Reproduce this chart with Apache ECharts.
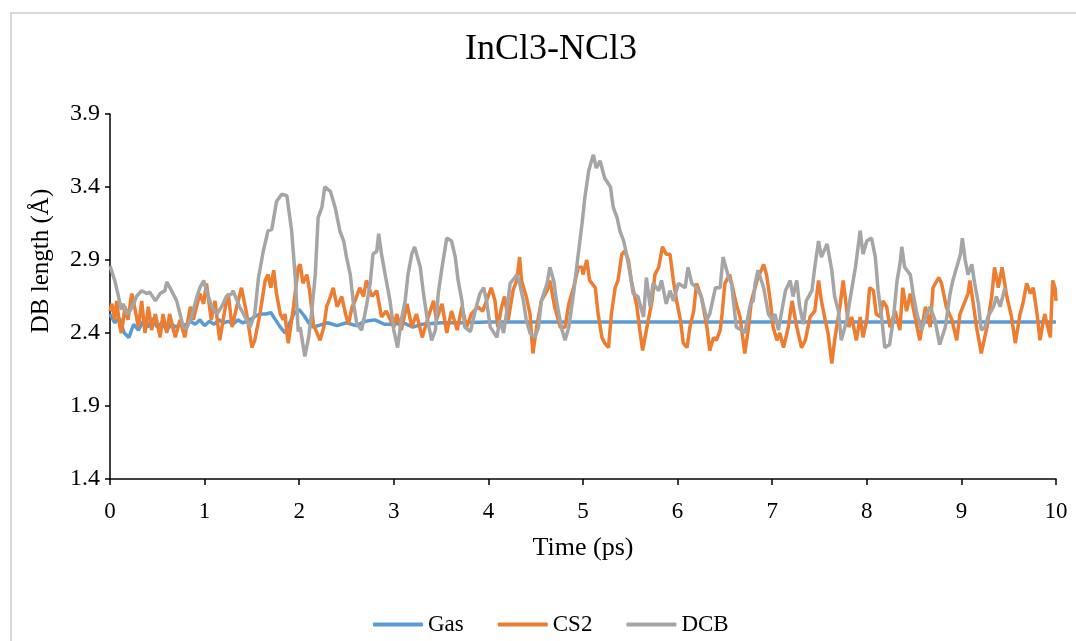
<!DOCTYPE html>
<html>
<head>
<meta charset="utf-8">
<script src="https://cdn.jsdelivr.net/npm/echarts@6/dist/echarts.min.js"></script>
<style>html,body{margin:0;padding:0;background:#fff;}#c{width:1076px;height:641px;}</style>
</head>
<body>
<div id="c"></div>
<script>
// ---- data ----
const yTicks = [1.4, 1.9, 2.4, 2.9, 3.4, 3.9];
const xTicks = [0,1,2,3,4,5,6,7,8,9,10];

const gasT = [0,0.05,0.1,0.15,0.2,0.25,0.3,0.35,0.4,0.45,0.5,0.55,0.6,0.65,0.7,0.75,0.8,0.85,0.9,0.95,1.0,1.05,1.1,1.15,1.2,1.25,1.3,1.35,1.4,1.45,1.5,1.55,1.6,1.65,1.7,1.75,1.8,1.85,1.9,1.95,2.0,2.05,2.1,2.15,2.2,2.3,2.4,2.5,2.6,2.7,2.8,2.9,3.0,3.1,3.2,3.3,3.5,3.7,4.0,5,6,7,8,9,10];
const gasV = [2.53,2.47,2.50,2.40,2.37,2.46,2.42,2.48,2.44,2.50,2.44,2.47,2.42,2.46,2.44,2.47,2.45,2.48,2.46,2.49,2.45,2.48,2.46,2.49,2.47,2.48,2.46,2.49,2.47,2.48,2.50,2.52,2.53,2.53,2.54,2.49,2.44,2.40,2.47,2.54,2.56,2.52,2.47,2.44,2.45,2.47,2.45,2.47,2.45,2.48,2.49,2.46,2.46,2.47,2.44,2.46,2.47,2.47,2.475,2.475,2.475,2.475,2.475,2.475,2.475];

const cs2T = [0.0,0.02,0.05,0.07,0.105,0.12,0.16,0.19,0.23,0.26,0.30,0.335,0.37,0.405,0.44,0.48,0.53,0.56,0.60,0.63,0.69,0.74,0.79,0.85,0.88,0.95,0.99,1.02,1.07,1.11,1.16,1.22,1.25,1.29,1.34,1.39,1.445,1.50,1.53,1.585,1.64,1.67,1.70,1.73,1.76,1.80,1.83,1.85,1.87,1.885,1.94,1.99,2.01,2.04,2.08,2.11,2.15,2.22,2.26,2.29,2.33,2.36,2.40,2.45,2.49,2.52,2.56,2.59,2.64,2.68,2.71,2.77,2.82,2.87,2.92,3.0,3.03,3.08,3.14,3.19,3.24,3.30,3.36,3.42,3.45,3.51,3.56,3.61,3.67,3.72,3.77,3.82,3.89,3.94,3.98,4.03,4.07,4.10,4.14,4.17,4.21,4.26,4.30,4.33,4.35,4.40,4.44,4.47,4.51,4.56,4.62,4.65,4.70,4.76,4.81,4.85,4.90,4.95,4.99,5.0,5.04,5.07,5.13,5.16,5.20,5.23,5.27,5.30,5.34,5.37,5.41,5.44,5.48,5.51,5.57,5.60,5.63,5.67,5.73,5.76,5.80,5.84,5.88,5.92,5.955,5.99,6.03,6.06,6.10,6.13,6.17,6.20,6.25,6.31,6.34,6.38,6.41,6.45,6.47,6.50,6.55,6.62,6.66,6.71,6.75,6.78,6.84,6.91,6.94,6.98,7.01,7.05,7.08,7.12,7.17,7.21,7.26,7.31,7.35,7.40,7.45,7.49,7.52,7.56,7.59,7.63,7.66,7.72,7.75,7.81,7.84,7.89,7.93,7.96,8.0,8.03,8.07,8.10,8.14,8.17,8.21,8.245,8.30,8.35,8.38,8.42,8.46,8.51,8.56,8.62,8.67,8.70,8.76,8.79,8.84,8.90,8.95,8.985,9.04,9.07,9.09,9.13,9.16,9.21,9.27,9.32,9.35,9.39,9.43,9.48,9.53,9.57,9.62,9.65,9.69,9.73,9.76,9.80,9.83,9.88,9.94,9.965,9.99,10.0];
const cs2V = [2.55,2.60,2.49,2.62,2.44,2.40,2.58,2.49,2.67,2.58,2.44,2.62,2.40,2.58,2.42,2.53,2.37,2.53,2.40,2.53,2.37,2.49,2.37,2.58,2.49,2.67,2.60,2.74,2.49,2.62,2.35,2.58,2.67,2.44,2.58,2.71,2.53,2.30,2.35,2.53,2.76,2.80,2.71,2.83,2.67,2.53,2.49,2.53,2.40,2.33,2.58,2.85,2.87,2.74,2.80,2.69,2.46,2.35,2.44,2.58,2.65,2.71,2.58,2.65,2.53,2.46,2.58,2.62,2.71,2.65,2.76,2.65,2.69,2.51,2.55,2.44,2.53,2.42,2.60,2.44,2.53,2.37,2.50,2.62,2.49,2.60,2.40,2.55,2.42,2.58,2.44,2.53,2.58,2.55,2.62,2.71,2.62,2.44,2.58,2.65,2.49,2.69,2.76,2.92,2.76,2.65,2.53,2.26,2.44,2.62,2.69,2.76,2.58,2.44,2.44,2.60,2.71,2.85,2.85,2.80,2.90,2.76,2.71,2.53,2.37,2.33,2.30,2.53,2.71,2.76,2.94,2.96,2.90,2.76,2.58,2.42,2.28,2.42,2.62,2.80,2.85,2.99,2.94,2.94,2.76,2.62,2.49,2.33,2.30,2.44,2.55,2.74,2.65,2.44,2.28,2.37,2.35,2.42,2.53,2.74,2.80,2.60,2.51,2.26,2.44,2.62,2.76,2.87,2.80,2.62,2.44,2.35,2.40,2.30,2.44,2.62,2.44,2.30,2.35,2.51,2.55,2.76,2.62,2.49,2.40,2.19,2.35,2.60,2.76,2.44,2.51,2.35,2.51,2.37,2.49,2.71,2.69,2.53,2.51,2.62,2.58,2.44,2.55,2.42,2.71,2.55,2.67,2.51,2.35,2.58,2.44,2.71,2.78,2.74,2.58,2.49,2.35,2.53,2.62,2.67,2.76,2.58,2.44,2.26,2.44,2.65,2.85,2.71,2.85,2.65,2.51,2.33,2.53,2.60,2.74,2.67,2.71,2.53,2.35,2.53,2.37,2.76,2.71,2.62];

const dcbT = [0.0,0.02,0.05,0.09,0.12,0.14,0.18,0.21,0.25,0.28,0.335,0.39,0.42,0.48,0.53,0.58,0.60,0.65,0.705,0.74,0.775,0.81,0.86,0.92,0.95,0.99,1.02,1.075,1.13,1.18,1.23,1.29,1.30,1.37,1.445,1.48,1.53,1.57,1.62,1.67,1.71,1.76,1.815,1.87,1.92,1.956,1.99,2.01,2.06,2.10,2.13,2.17,2.20,2.24,2.27,2.33,2.38,2.43,2.47,2.50,2.54,2.57,2.61,2.66,2.71,2.75,2.78,2.82,2.84,2.87,2.92,2.96,3.0,3.04,3.08,3.12,3.15,3.19,3.22,3.28,3.31,3.35,3.40,3.44,3.47,3.51,3.56,3.61,3.65,3.68,3.72,3.75,3.81,3.86,3.91,3.95,3.98,4.02,4.09,4.12,4.16,4.19,4.23,4.28,4.30,4.33,4.37,4.40,4.44,4.49,4.53,4.56,4.62,4.65,4.69,4.72,4.77,4.81,4.85,4.90,4.95,4.99,5.02,5.06,5.09,5.11,5.14,5.18,5.23,5.29,5.32,5.36,5.39,5.43,5.46,5.50,5.53,5.58,5.64,5.67,5.71,5.74,5.80,5.83,5.88,5.92,5.955,6.01,6.08,6.11,6.15,6.20,6.25,6.31,6.34,6.40,6.45,6.48,6.54,6.57,6.62,6.68,6.71,6.77,6.80,6.82,6.85,6.91,6.96,7.0,7.03,7.065,7.14,7.19,7.22,7.26,7.29,7.33,7.36,7.42,7.45,7.49,7.52,7.58,7.63,7.66,7.70,7.73,7.79,7.82,7.88,7.93,7.96,8.0,8.05,8.09,8.12,8.16,8.19,8.24,8.28,8.32,8.35,8.37,8.40,8.46,8.49,8.53,8.58,8.63,8.67,8.72,8.77,8.83,8.88,8.91,8.95,8.99,9.01,9.04,9.07,9.11,9.14,9.18,9.21,9.25,9.28,9.34,9.37,9.41,9.46];
const dcbV = [2.86,2.85,2.76,2.65,2.56,2.60,2.53,2.55,2.60,2.65,2.69,2.67,2.68,2.62,2.67,2.69,2.75,2.69,2.62,2.53,2.44,2.43,2.51,2.65,2.71,2.76,2.69,2.58,2.53,2.58,2.65,2.67,2.69,2.58,2.49,2.44,2.53,2.78,2.96,3.10,3.11,3.30,3.35,3.34,3.10,2.80,2.41,2.44,2.24,2.37,2.53,2.80,3.19,3.26,3.40,3.37,3.26,3.10,3.03,2.92,2.80,2.62,2.46,2.42,2.58,2.74,2.94,2.96,3.08,2.94,2.76,2.62,2.42,2.30,2.49,2.62,2.80,2.94,2.99,2.85,2.69,2.51,2.35,2.42,2.67,2.85,3.05,3.03,2.92,2.76,2.62,2.44,2.41,2.55,2.67,2.71,2.62,2.44,2.37,2.49,2.40,2.53,2.74,2.78,2.80,2.74,2.62,2.49,2.40,2.37,2.44,2.62,2.74,2.85,2.76,2.62,2.44,2.35,2.44,2.67,2.94,3.15,3.33,3.51,3.58,3.62,3.53,3.58,3.46,3.40,3.26,3.19,3.10,3.03,2.94,2.80,2.67,2.65,2.51,2.78,2.58,2.74,2.69,2.76,2.60,2.69,2.62,2.74,2.71,2.85,2.74,2.71,2.65,2.49,2.53,2.71,2.71,2.92,2.78,2.74,2.44,2.42,2.40,2.60,2.62,2.74,2.83,2.71,2.53,2.49,2.53,2.42,2.69,2.76,2.65,2.76,2.58,2.46,2.62,2.69,2.85,3.03,2.92,3.01,2.83,2.65,2.55,2.35,2.49,2.62,2.85,3.10,2.94,3.03,3.05,2.92,2.69,2.49,2.30,2.32,2.49,2.76,2.87,2.99,2.85,2.80,2.67,2.53,2.42,2.53,2.58,2.49,2.32,2.44,2.67,2.76,2.85,2.94,3.05,2.90,2.80,2.87,2.74,2.60,2.42,2.44,2.51,2.58,2.65,2.58,2.71];

const seriesNames = ['Gas', 'CS2', 'DCB'];
const seriesColors = ['#5B9BD5', '#ED7D31', '#A5A5A5'];

function pairs(t, v) { return t.map((x, i) => [x, v[i]]); }

const FONT = "'Liberation Serif', 'Times New Roman', serif";
const chart = echarts.init(document.getElementById('c'));
chart.setOption({
  animation: false,
  backgroundColor: '#fff',
  color: seriesColors,
  title: {
    text: 'InCl3-NCl3',
    left: 546, top: 27, textAlign: 'center',
    textStyle: { fontFamily: FONT, fontSize: 36, fontWeight: 'normal', color: '#000' }
  },
  graphic: [
    { type: 'rect', shape: { x: 11, y: 13, width: 1200, height: 800 },
      style: { fill: 'none', stroke: '#D9D9D9', lineWidth: 2 }, silent: true, z: -1 },
    { type: 'text', x: 41, y: 261, rotation: Math.PI / 2,
      style: { text: 'DB length (Å)', fontFamily: FONT, fontSize: 25, fill: '#000',
               align: 'center', verticalAlign: 'middle' } }
  ],
  legend: {
    left: 368, top: 608,
    itemWidth: 50, itemHeight: 4, itemGap: 34,
    icon: 'roundRect',
    textStyle: { fontFamily: FONT, fontSize: 23, color: '#000', padding: [0, 0, 0, 0] },
    data: seriesNames
  },
  grid: { left: 110, right: 20, top: 114, bottom: 162, containLabel: false },
  xAxis: {
    type: 'value', min: xTicks[0], max: xTicks[xTicks.length - 1], interval: 1,
    name: 'Time (ps)', nameLocation: 'middle', nameGap: 56,
    nameTextStyle: { fontFamily: FONT, fontSize: 26, color: '#000' },
    axisLine: { show: true, onZero: false, lineStyle: { color: '#000', width: 1.5 } },
    axisTick: { show: true, length: 6, lineStyle: { color: '#000', width: 1.5 } },
    axisLabel: { fontFamily: FONT, fontSize: 23, color: '#000', margin: 21 },
    splitLine: { show: false }
  },
  yAxis: {
    type: 'value', min: yTicks[0], max: yTicks[yTicks.length - 1], interval: 0.5,
    axisLine: { show: true, onZero: false, lineStyle: { color: '#000', width: 1.5 } },
    axisTick: { show: true, length: 5, lineStyle: { color: '#000', width: 1.5 } },
    axisLabel: { fontFamily: FONT, fontSize: 24, color: '#000', margin: 10,
                 formatter: v => v.toFixed(1) },
    splitLine: { show: false }
  },
  series: [
    { name: seriesNames[0], type: 'line', data: pairs(gasT, gasV), showSymbol: false, symbol: 'none',
      lineStyle: { width: 3.5, color: seriesColors[0] }, itemStyle: { color: seriesColors[0] }, z: 2 },
    { name: seriesNames[1], type: 'line', data: pairs(cs2T, cs2V), showSymbol: false, symbol: 'none',
      lineStyle: { width: 3.5, color: seriesColors[1] }, itemStyle: { color: seriesColors[1] }, z: 3 },
    { name: seriesNames[2], type: 'line', data: pairs(dcbT, dcbV), showSymbol: false, symbol: 'none',
      lineStyle: { width: 3.5, color: seriesColors[2] }, itemStyle: { color: seriesColors[2] }, z: 4 }
  ]
});
</script>
</body>
</html>
